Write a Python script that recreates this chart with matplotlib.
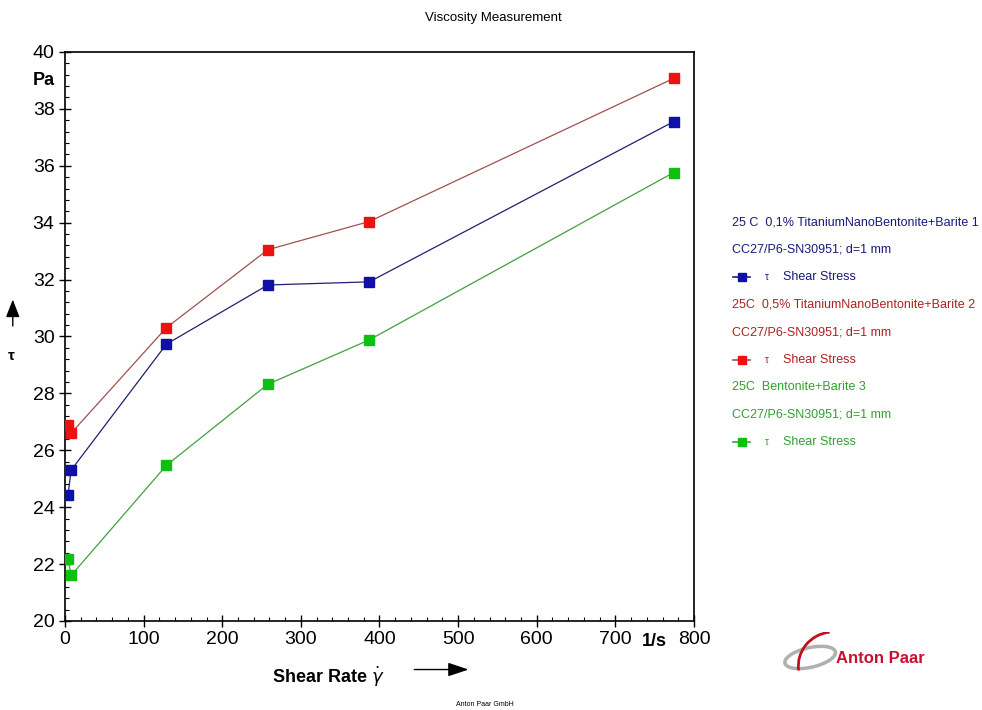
import numpy as np
import matplotlib
matplotlib.use("Agg")
import matplotlib.pyplot as plt
from matplotlib.patches import Arc, Ellipse, FancyArrowPatch

plt.rcParams['font.family'] = ['Liberation Sans', 'DejaVu Sans']

# shear rate 1/s
shear_rate = [3.87, 7.74, 129, 258, 387, 774]

# shear stress Pa
stress_01 = [24.43, 25.3, 29.73, 31.81, 31.92, 37.55]
stress_05 = [26.88, 26.6, 30.31, 33.05, 34.04, 39.07]
stress_base = [22.17, 21.6, 25.47, 28.32, 29.88, 35.76]

series = [
    (stress_01, "#1010a8", "#202070", "#1a1a7a",
     "25 C  0,1% TitaniumNanoBentonite+Barite 1"),
    (stress_05, "#ee1111", "#a05050", "#b02020",
     "25C  0,5% TitaniumNanoBentonite+Barite 2"),
    (stress_base, "#10c010", "#40a040", "#30a030",
     "25C  Bentonite+Barite 3"),
]
sensor = "CC27/P6-SN30951; d=1 mm"

fig = plt.figure(figsize=(9.82, 7.10), dpi=100)
ax = fig.add_axes([0.0662, 0.1254, 0.6405, 0.8014])

for ys, mcol, lcol, tcol, name in series:
    ax.plot(shear_rate, ys, color=lcol, lw=0.9, marker="s", ms=6.5,
            mfc=mcol, mec=mcol, zorder=3)

ax.set_xlim(0, 800)
ax.set_ylim(20, 40)
ax.set_xticks(np.arange(0, 801, 100))
ax.set_yticks(np.arange(20, 41, 2))
ax.set_xticks(np.arange(0, 801, 20), minor=True)
ax.set_yticks(np.arange(20, 40.01, 0.4), minor=True)
ax.tick_params(which="major", direction="inout", length=8, width=1, labelsize=14)
ax.tick_params(which="minor", direction="in", length=3, width=0.8)
for s in ax.spines.values():
    s.set_linewidth(1.2)

fig.text(0.502, 0.975, "Viscosity Measurement", ha="center", va="center", fontsize=9.5)
fig.text(0.033, 0.887, "Pa", ha="left", va="center", fontsize=13, fontweight="bold")
fig.text(0.666, 0.097, "1/s", ha="center", va="center", fontsize=13, fontweight="bold")

# y axis symbol with arrow
fig.text(0.011, 0.499, "τ", ha="center", va="center", fontsize=11, fontweight="bold")
fig.add_artist(FancyArrowPatch(
    (0.013, 0.537), (0.013, 0.582), transform=fig.transFigure,
    arrowstyle="-|>,head_length=0.9,head_width=0.35", mutation_scale=12,
    color="black", lw=1))

# x axis label with arrow
fig.text(0.277, 0.046, "Shear Rate $\\dot{\\gamma}$", ha="left", va="center",
         fontsize=13, fontweight="bold")
fig.add_artist(FancyArrowPatch(
    (0.419, 0.057), (0.48, 0.057), transform=fig.transFigure,
    arrowstyle="-|>,head_length=0.9,head_width=0.3", mutation_scale=14,
    color="black", lw=1))

fig.text(0.494, 0.008, "Anton Paar GmbH", ha="center", va="center", fontsize=5)

# legend block on the right
y0 = 0.687
dy = 0.0387
row = 0
for ys, mcol, lcol, tcol, name in series:
    fig.text(0.745, y0 - dy * row, name, ha="left", va="center", fontsize=9, color=tcol)
    row += 1
    fig.text(0.745, y0 - dy * row, sensor, ha="left", va="center", fontsize=9, color=tcol)
    row += 1
    yy = y0 - dy * row
    fig.add_artist(plt.Line2D([0.7465, 0.764], [yy, yy], transform=fig.transFigure,
                              color=lcol, lw=1.2))
    fig.add_artist(plt.Line2D([0.7555], [yy], transform=fig.transFigure,
                              marker="s", ms=6, mfc=mcol, mec=mcol, lw=0))
    fig.text(0.781, yy, "τ", ha="center", va="center", fontsize=7, color=tcol)
    fig.text(0.797, yy, "Shear Stress", ha="left", va="center", fontsize=9, color=tcol)
    row += 1

# logo
lax = fig.add_axes([0.795, 0.05, 0.06, 0.06])
lax.set_xlim(0, 1)
lax.set_ylim(0, 1)
lax.axis("off")
lax.add_patch(Ellipse((0.5, 0.4), 0.9, 0.45, angle=20, fill=False, ec="#b0b0b0", lw=2.5))
lax.add_patch(Arc((0.9, 0.2), 1.2, 1.6, theta1=95, theta2=190, ec="#c01020", lw=2))
fig.text(0.851, 0.073, "Anton Paar", ha="left", va="center", fontsize=12,
         fontweight="bold", color="#c8102e")

fig.savefig("out.png", dpi=100)
